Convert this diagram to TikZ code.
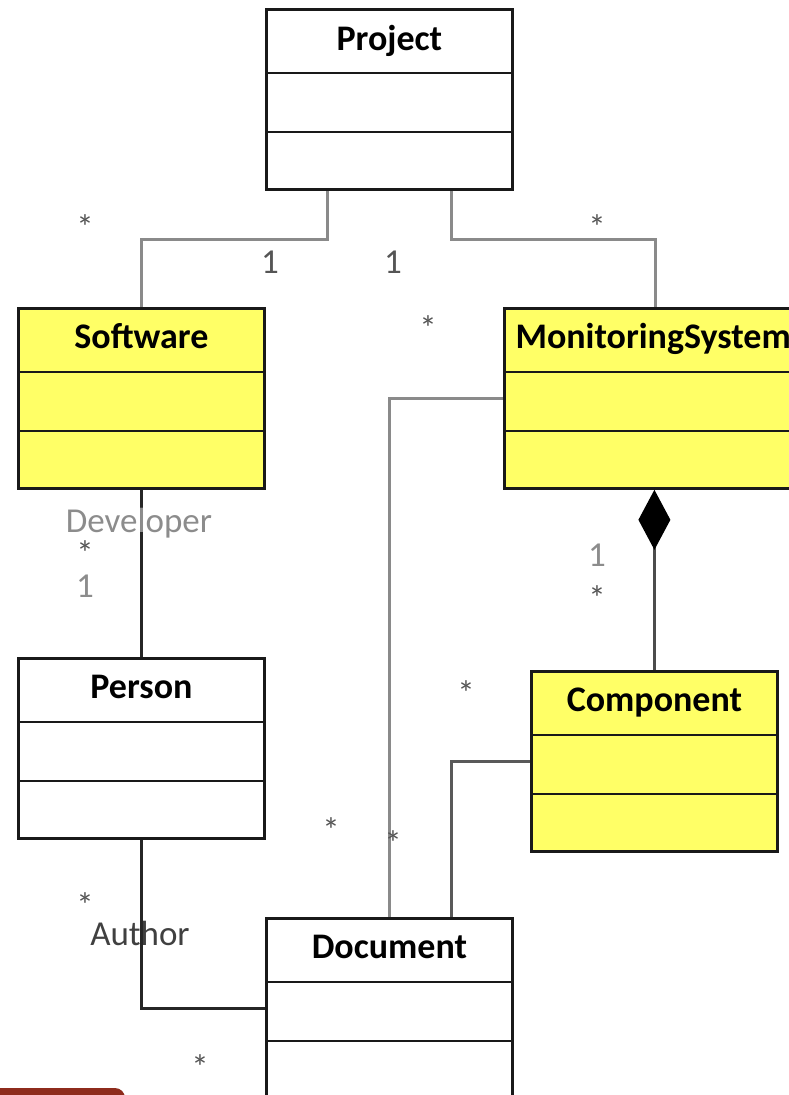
\documentclass[tikz,border=0pt]{standalone}
\usepackage{fontspec}
\setmainfont{Carlito}
\usepackage{tikz}
\usetikzlibrary{calc}
\usetikzlibrary{arrows.meta}
\usetikzlibrary{positioning}
\definecolor{umlyellow}{HTML}{FFFF66}
\definecolor{linegray}{HTML}{8A8A8A}
\definecolor{labelgray}{HTML}{555555}
\definecolor{cornerred}{HTML}{8E2B1C}
\tikzset{umlclass/.style={draw=black!90, line width=2.8pt, anchor=north west, inner sep=0pt, minimum width=246, minimum height=180}}
\tikzset{classname/.style={anchor=base, font=\fontsize{36}{42}\selectfont\bfseries}}
\tikzset{mult/.style={anchor=base, text=labelgray, font=\fontsize{35}{41}\selectfont}}
\tikzset{assoc/.style={draw=linegray, line width=3pt}}
\tikzset{assocdark/.style={draw=black!85, line width=3pt}}

\begin{document}
\begin{tikzpicture}[x=1pt,y=-1pt]
\useasboundingbox (0,0) rectangle (788,1095);

    % classes
    \node[umlclass, fill=white] (proj) at (265,8) {};
    \node[umlclass, fill=umlyellow] (software) at (17,307) {};
    \node[umlclass, fill=umlyellow, minimum width=320] (monitor) at (503,307) {};
    \node[umlclass, fill=white] (person) at (17,657) {};
    \node[umlclass, fill=umlyellow] (component) at (530,670) {};
    \node[umlclass, fill=white] (document) at (265,917) {};

    \foreach \c in {proj,software,monitor,person,component,document}{
        \draw[black!90, line width=2.8pt] ($(\c.north west)+(0,65)$) -- ($(\c.north east)+(0,65)$);
        \draw[black!90, line width=2.8pt] ($(\c.north west)+(0,124)$) -- ($(\c.north east)+(0,124)$);
    }

    \node[classname] (projname) at ($(proj.north)+(0,42)$) {Project};
    \node[classname] (softwarename) at ($(software.north)+(0,41)$) {Software};
    \node[classname, anchor=base west] (monitorname) at ($(monitor.north west)+(9,41)$) {MonitoringSystem};
    \node[classname] (personname) at ($(person.north)+(0,41)$) {Person};
    \node[classname] (componentname) at ($(component.north)+(0,41)$) {Component};
    \node[classname] (documentname) at ($(document.north)+(0,41)$) {Document};

    % connectors
    \draw[assoc] ($(proj.south west)+(62,0)$) -- ++(0,49) -| (software.north);
    \draw[assoc] ($(proj.south east)+(-62,0)$) -- ++(0,49) -| ($(monitor.north west)+(152,0)$);
    \draw[assoc] (monitor.west) -| (document.north);
    \draw[assoc, draw=black!65] (component.west) -| ($(document.north east)+(-62,0)$);
    \draw[assocdark] (software.south) -- (person.north);
    \draw[assocdark] (person.south) |- (document.west);
    \draw[assoc, draw=black!70, -{Diamond[length=60pt,width=32pt,fill=black,color=black]}] (component.north) -- (component.north |- monitor.south);

    % multiplicities and roles
    \node[mult] (m1) at (85,239) {*};
    \node[mult] (m2) at (270,273) {1};
    \node[mult] (m3) at (393,273) {1};
    \node[mult] (m4) at (597,239) {*};
    \node[mult] (m5) at (428,340) {*};
    \node[mult, text=black!45] (devrole) at (139,532) {Developer};
    \node[mult] (m6) at (85,565) {*};
    \node[mult, text=black!45] (m7) at (85,597) {1};
    \node[mult, text=black!45] (m8) at (597,566) {1};
    \node[mult] (m9) at (597,610) {*};
    \node[mult] (m10) at (466,705) {*};
    \node[mult] (m11) at (331,842) {*};
    \node[mult] (m12) at (393,855) {*};
    \node[mult] (m13) at (85,917) {*};
    \node[mult, text=black!75] (authrole) at (140,945) {Author};
    \node[mult] (m14) at (200,1079) {*};

    \fill[cornerred, rounded corners=10pt] (-20,1088) rectangle (125,1120);
\end{tikzpicture}
\end{document}
